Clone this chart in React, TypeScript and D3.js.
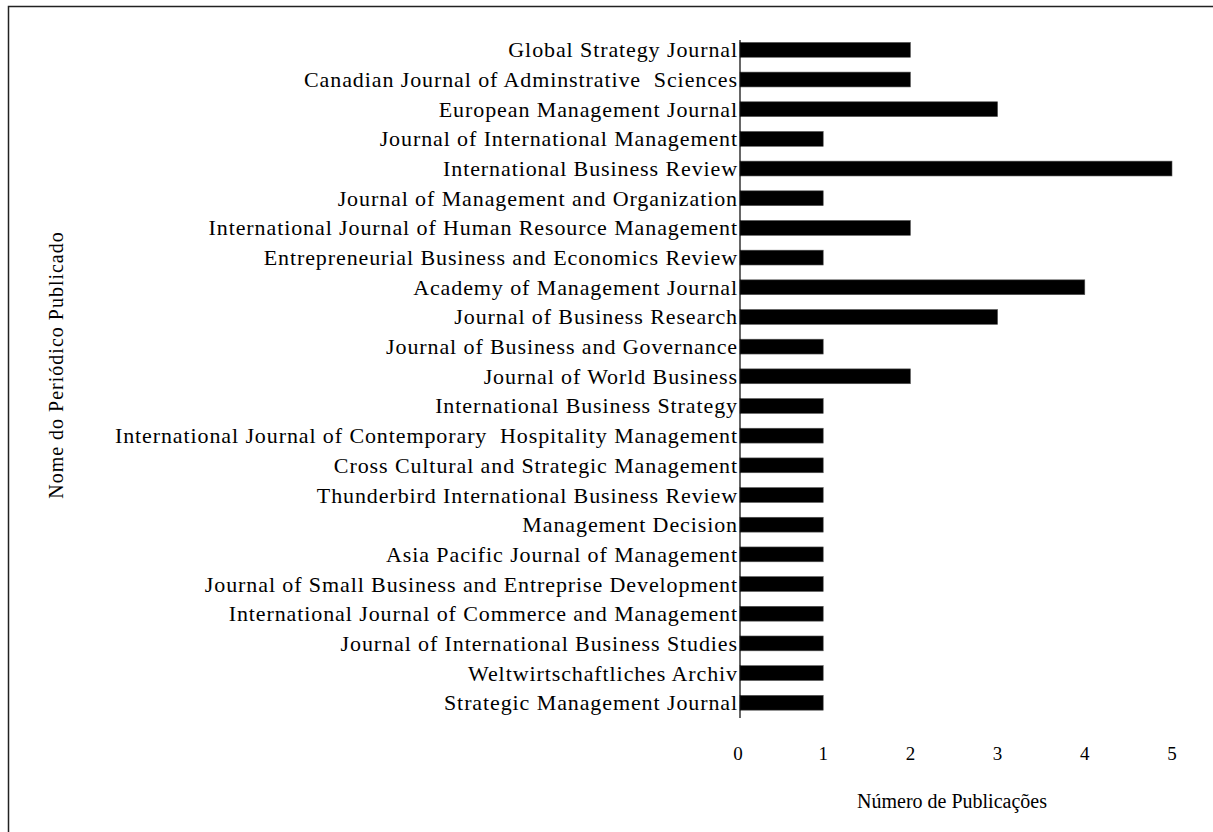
import React, { useRef, useEffect } from 'react';
import * as d3 from 'd3';

// journal names, top to bottom as they appear
const journals = [
  'Global Strategy Journal',
  'Canadian Journal of Adminstrative  Sciences',
  'European Management Journal',
  'Journal of International Management',
  'International Business Review',
  'Journal of Management and Organization',
  'International Journal of Human Resource Management',
  'Entrepreneurial Business and Economics Review',
  'Academy of Management Journal',
  'Journal of Business Research',
  'Journal of Business and Governance',
  'Journal of World Business',
  'International Business Strategy',
  'International Journal of Contemporary  Hospitality Management',
  'Cross Cultural and Strategic Management',
  'Thunderbird International Business Review',
  'Management Decision',
  'Asia Pacific Journal of Management',
  'Journal of Small Business and Entreprise Development',
  'International Journal of Commerce and Management',
  'Journal of International Business Studies',
  'Weltwirtschaftliches Archiv',
  'Strategic Management Journal',
];

// number of publications per journal
const publications = [2, 2, 3, 1, 5, 1, 2, 1, 4, 3, 1, 2, 1, 1, 1, 1, 1, 1, 1, 1, 1, 1, 1];

const xTicks = [0, 1, 2, 3, 4, 5];

const xTitle = 'Número de Publicações';
const yTitle = 'Nome do Periódico Publicado';

const W = 1213;
const H = 832;
const FONT = '"Liberation Serif", "Times New Roman", serif';

const Chart = () => {
  const ref = useRef(null);

  useEffect(() => {
    const svg = d3.select(ref.current);
    svg.selectAll('*').remove();

    // scales
    const x = d3.scaleLinear().domain([0, 5]).range([736, 1172]);
    const y = d3.scaleBand()
      .domain(journals)
      .range([35, 717.6])
      .paddingInner(0.5)
      .paddingOuter(0.25);

    const axisX = 740;

    // outer frame (right/bottom run off the picture)
    svg.append('rect')
      .attr('x', 8.5)
      .attr('y', 6.5)
      .attr('width', 1300)
      .attr('height', 900)
      .attr('fill', 'none')
      .attr('stroke', '#222')
      .attr('stroke-width', 1.5);

    const rows = journals.map((j, i) => ({ name: j, value: publications[i] }));

    // bars
    svg.append('g')
      .selectAll('rect')
      .data(rows)
      .enter()
      .append('rect')
      .attr('x', axisX)
      .attr('y', d => y(d.name))
      .attr('width', d => x(d.value) - axisX)
      .attr('height', y.bandwidth())
      .attr('fill', '#000')
      .attr('stroke', '#555')
      .attr('stroke-width', 0.6);

    // vertical axis line
    svg.append('line')
      .attr('x1', axisX)
      .attr('x2', axisX)
      .attr('y1', 40)
      .attr('y2', 718)
      .attr('stroke', '#000')
      .attr('stroke-width', 1.2);

    // category labels
    svg.append('g')
      .selectAll('text')
      .data(rows)
      .enter()
      .append('text')
      .attr('x', 738)
      .attr('y', d => y(d.name) + y.bandwidth() / 2 + 7.5)
      .attr('text-anchor', 'end')
      .style('font-family', FONT)
      .style('font-size', '22px')
      .style('letter-spacing', '0.9px')
      .style('white-space', 'pre')
      .attr('fill', '#000')
      .text(d => d.name);

    // tick labels
    svg.append('g')
      .selectAll('text')
      .data(xTicks)
      .enter()
      .append('text')
      .attr('x', d => x(d) + (d === 0 ? 2 : 0))
      .attr('y', 759.5)
      .attr('text-anchor', 'middle')
      .style('font-family', FONT)
      .style('font-size', '19px')
      .attr('fill', '#000')
      .text(d => d);

    // axis titles
    svg.append('text')
      .attr('x', 952)
      .attr('y', 808)
      .attr('text-anchor', 'middle')
      .style('font-family', FONT)
      .style('font-size', '20px')
      .attr('fill', '#000')
      .text(xTitle);

    svg.append('text')
      .attr('transform', 'translate(63,365) rotate(-90)')
      .attr('text-anchor', 'middle')
      .style('font-family', FONT)
      .style('font-size', '20px')
      .style('letter-spacing', '1px')
      .attr('fill', '#000')
      .text(yTitle);
  }, []);

  return <svg ref={ref} width={W} height={H} style={{ position: 'absolute', left: 0, top: 0, background: '#fff' }} />;
};

const App = () => {
  return (
    <div>
      <Chart />
    </div>
  );
};

export default App;
